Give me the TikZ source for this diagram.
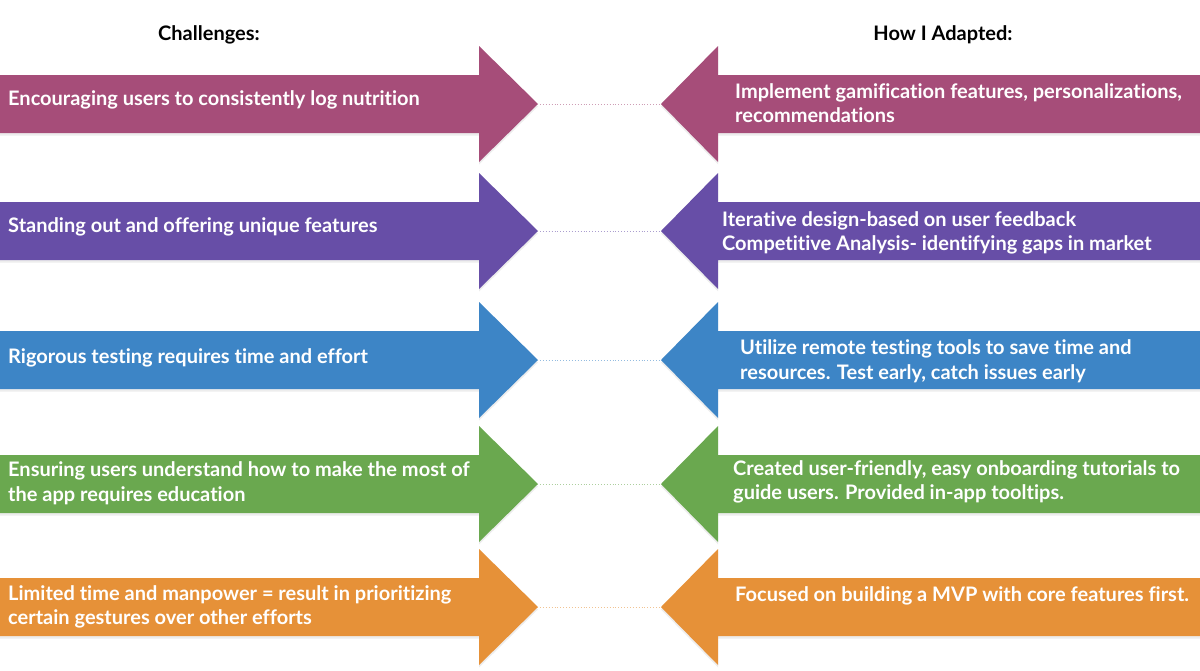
\documentclass[tikz,border=0pt]{standalone}
\usepackage{fontspec}
\setmainfont{Lato}[Ligatures=NoCommon]
\definecolor{cMag}{HTML}{A64D79}
\definecolor{cPur}{HTML}{674EA7}
\definecolor{cBlu}{HTML}{3D85C6}
\definecolor{cGrn}{HTML}{6AA84F}
\definecolor{cOrg}{HTML}{E69138}
\tikzset{
  arrowshape/.style={fill=#1, draw=none},
  softshadow/.style={fill=black, fill opacity=0.07, draw=none},
  label/.style={text=white, font=\fontsize{20}{24.5}\selectfont\bfseries, align=left, anchor=west, inner sep=0pt},
  heading/.style={text=black, font=\fontsize{20}{24.5}\selectfont\bfseries, inner sep=0pt},
  link/.style={draw=#1!55, dotted, line width=0.9pt},
}
% outline of a right-pointing and a left-pointing arrow around centre line y
\newcommand\rightarrowpath[1]{(0,#1-29) -- (479,#1-29) -- (479,#1-58) -- (538,#1)
     -- (479,#1+58) -- (479,#1+29) -- (0,#1+29) -- cycle}
\newcommand\leftarrowpath[1]{(1200,#1-29) -- (718,#1-29) -- (718,#1-58) -- (661,#1)
     -- (718,#1+58) -- (718,#1+29) -- (1200,#1+29) -- cycle}
\begin{document}
\begin{tikzpicture}[x=1pt, y=-1pt]
\useasboundingbox (0,0) rectangle (1200,670);
\fill[white] (0,0) rectangle (1200,670);

\node[heading] (hL) at (209,35) {Challenges:};
\node[heading] (hR) at (943,35) {How I Adapted:};

% rows: name, colour, centre y
\foreach \n/\col/\cy in {1/cMag/104, 2/cPur/231, 3/cBlu/360, 4/cGrn/484, 5/cOrg/607}{
  \fill[softshadow, yshift=-2.5pt] \rightarrowpath{\cy};
  \fill[softshadow, yshift=-2.5pt] \leftarrowpath{\cy};
  \fill[arrowshape=\col] \rightarrowpath{\cy};
  \fill[arrowshape=\col] \leftarrowpath{\cy};
  \coordinate (tipL\n) at (540,\cy);
  \coordinate (tipR\n) at (659,\cy);
  \draw[link=\col] (tipL\n) -- (tipR\n);
}

% challenge texts
\node[label] (c1) at (8,100) {Encouraging users to consistently log nutrition};
\node[label] (c2) at (8,227) {Standing out and offering unique features};
\node[label] (c3) at (8,358) {Rigorous testing requires time and effort};
\node[label] (c4) at (8,483) {Ensuring users understand how to make the most of\\the app requires education};
\node[label] (c5) at (8,607) {Limited time and manpower = result in prioritizing\\certain gestures over other efforts};

% adaptation texts
\node[label] (a1) at (735,103) {Implement gamification features, personalizations,\\recommendations};
\node[label] (a2) at (722,233) {Iterative design-based on user feedback\\Competitive Analysis- identifying gaps in market};
\node[label] (a3) at (740,361) {Utilize remote testing tools to save time and\\resources. Test early, catch issues early};
\node[label] (a4) at (733,482) {Created user-friendly, easy onboarding tutorials to\\guide users. Provided in-app tooltips.};
\node[label] (a5) at (735,596) {Focused on building a MVP with core features first.};
\end{tikzpicture}
\end{document}
